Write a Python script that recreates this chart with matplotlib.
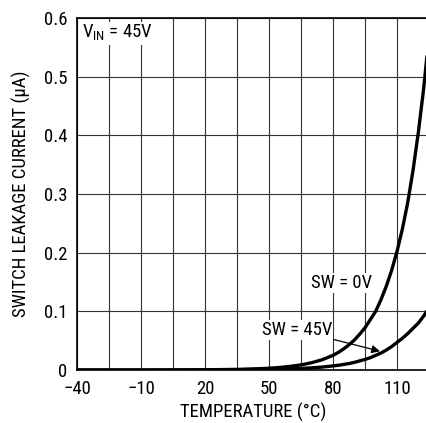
import matplotlib
matplotlib.use("Agg")
import matplotlib.pyplot as plt
from matplotlib import font_manager

entries = font_manager.fontManager.ttflist
names = {f.name for f in entries}
stretch = 'normal'
if "Liberation Sans Narrow" in names:
    fam = "Liberation Sans Narrow"
elif "Roboto Condensed" in names:
    fam = "Roboto Condensed"
elif any(f.name == "DejaVu Sans" and f.stretch not in ('normal', 500) for f in entries):
    fam = "DejaVu Sans"
    stretch = 'condensed'
else:
    fam = "Roboto"
plt.rcParams['font.family'] = [fam, 'DejaVu Sans']
plt.rcParams['font.stretch'] = stretch
FS = 13.5 if fam != "Roboto" else 11.5

# Data
temp = [-40, -25, -10, 5, 20, 35, 45, 50, 55, 60, 65, 70, 75, 80, 82.5, 85, 87.5, 90, 92.5,
        95, 97.5, 100, 102.5, 105, 107.5, 110, 112.5, 115, 117.5, 120, 122.5, 125]
sw_0v = [0.0, 0.0, 0.0, 0.0002, 0.0004, 0.001, 0.0022, 0.003, 0.0043, 0.0062, 0.0087, 0.0124,
         0.0176, 0.025, 0.030, 0.036, 0.043, 0.051, 0.061, 0.072, 0.086, 0.100, 0.12, 0.143,
         0.17, 0.202, 0.24, 0.285, 0.34, 0.405, 0.48, 0.57]
sw_45v = [0.0, 0.0, 0.0, 0.0, 0.0002, 0.0005, 0.0008, 0.0011, 0.0015, 0.002, 0.0027, 0.0037,
          0.005, 0.007, 0.008, 0.0095, 0.011, 0.013, 0.0155, 0.018, 0.021, 0.025, 0.029, 0.034,
          0.040, 0.047, 0.054, 0.062, 0.071, 0.080, 0.092, 0.106]

x_ticks = [-40, -25, -10, 5, 20, 35, 50, 65, 80, 95, 110, 125]
x_labels = ["\u221240", "", "\u221210", "", "20", "", "50", "", "80", "", "110", ""]
y_ticks = [0, 0.1, 0.2, 0.3, 0.4, 0.5, 0.6]
y_labels = ["0", "0.1", "0.2", "0.3", "0.4", "0.5", "0.6"]

fig = plt.figure(figsize=(4.27, 4.23), dpi=100)
ax = fig.add_axes([0.1803, 0.1253, 0.8244, 0.8321])

ax.plot(temp, sw_0v, color='black', lw=2.4, solid_capstyle='butt', zorder=3)
ax.plot(temp, sw_45v, color='black', lw=2.4, solid_capstyle='butt', zorder=3)

ax.set_xlim(-40, 125)
ax.set_ylim(0, 0.6)
ax.set_xticks(x_ticks)
ax.set_xticklabels(x_labels)
ax.set_yticks(y_ticks)
ax.set_yticklabels(y_labels)
ax.tick_params(length=0, labelsize=FS, pad=7)
ax.grid(True, color='#333333', lw=0.8)
for s in ax.spines.values():
    s.set_linewidth(1.2)
    s.set_color('black')

ax.set_xlabel("TEMPERATURE (\u00b0C)", fontsize=FS, labelpad=4)
ax.set_ylabel("SWITCH LEAKAGE CURRENT (\u00b5A)", fontsize=FS, labelpad=9)

ax.text(-37.5, 0.574, r"V$_{\mathregular{IN}}$ = 45V", fontsize=FS, va='center', ha='left',
        bbox=dict(facecolor='white', edgecolor='none', pad=1))
ax.text(84, 0.148, "SW = 0V", fontsize=FS, va='center', ha='center',
        bbox=dict(facecolor='white', edgecolor='none', pad=0.5), zorder=2)
ax.annotate("SW = 45V", xy=(102, 0.032), xytext=(63, 0.068), fontsize=FS,
            va='center', ha='center', zorder=4,
            bbox=dict(facecolor='white', edgecolor='none', pad=0.5),
            arrowprops=dict(arrowstyle='-|>', color='black', lw=0.9, mutation_scale=12,
                            shrinkA=0, shrinkB=0))

fig.savefig("out.png", dpi=100)
